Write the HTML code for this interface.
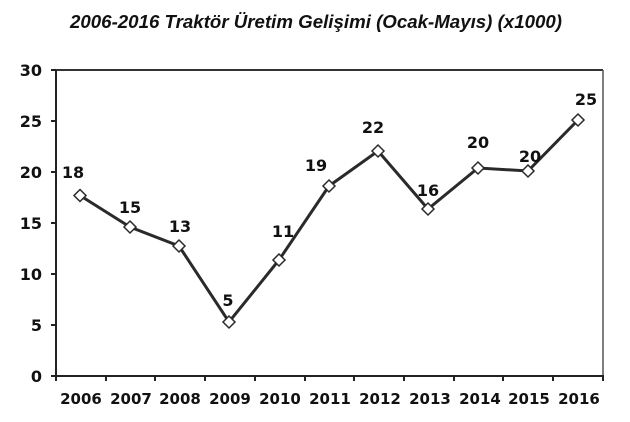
<!DOCTYPE html>
<html><head><style>
body{margin:0;background:#fff;}
svg text{font-family:"DejaVu Sans","Liberation Sans",sans-serif;font-weight:bold;fill:#111;}
</style></head><body>
<svg width="630" height="417" viewBox="0 0 630 417" xmlns="http://www.w3.org/2000/svg">
<text x="70" y="28" textLength="492" lengthAdjust="spacingAndGlyphs" style="font-family:'Liberation Sans',sans-serif;font-style:italic;font-size:18.5px">2006-2016 Traktör Üretim Gelişimi (Ocak-Mayıs) (x1000)</text>
<line x1="56" y1="70" x2="603" y2="70" stroke="#333" stroke-width="2"/>
<line x1="603" y1="70" x2="603" y2="376" stroke="#555" stroke-width="1.5"/>
<line x1="56" y1="70" x2="56" y2="377" stroke="#222" stroke-width="2"/>
<line x1="55" y1="376" x2="604" y2="376" stroke="#222" stroke-width="2"/>
<g stroke="#222" stroke-width="2">
<line x1="51" y1="70" x2="56" y2="70"/><line x1="51" y1="121" x2="56" y2="121"/><line x1="51" y1="172" x2="56" y2="172"/><line x1="51" y1="223" x2="56" y2="223"/><line x1="51" y1="274" x2="56" y2="274"/><line x1="51" y1="325" x2="56" y2="325"/><line x1="51" y1="376" x2="56" y2="376"/>
<line x1="56" y1="376" x2="56" y2="381"/><line x1="106" y1="376" x2="106" y2="381"/><line x1="155" y1="376" x2="155" y2="381"/><line x1="205" y1="376" x2="205" y2="381"/><line x1="255" y1="376" x2="255" y2="381"/><line x1="305" y1="376" x2="305" y2="381"/><line x1="354" y1="376" x2="354" y2="381"/><line x1="404" y1="376" x2="404" y2="381"/><line x1="454" y1="376" x2="454" y2="381"/><line x1="503" y1="376" x2="503" y2="381"/><line x1="553" y1="376" x2="553" y2="381"/><line x1="603" y1="376" x2="603" y2="381"/>
</g>
<g font-size="16" text-anchor="end">
<text x="42" y="76">30</text><text x="42" y="127">25</text><text x="42" y="178">20</text><text x="42" y="229">15</text><text x="42" y="280">10</text><text x="42" y="331">5</text><text x="42" y="382">0</text>
</g>
<g font-size="15" text-anchor="middle">
<text x="81" y="404">2006</text><text x="131" y="404">2007</text><text x="180" y="404">2008</text><text x="230" y="404">2009</text><text x="280" y="404">2010</text><text x="330" y="404">2011</text><text x="380" y="404">2012</text><text x="430" y="404">2013</text><text x="480" y="404">2014</text><text x="529" y="404">2015</text><text x="579" y="404">2016</text>
</g>
<polyline fill="none" stroke="#2a2a2a" stroke-width="3" points="80,195.5 130,227 179,246 229,322 279,260 329,186 378,151 428,209 478,168 528,171 578,120"/>
<g fill="#fff" stroke="#2a2a2a" stroke-width="1.5">
<path d="M80,189.5l6,6l-6,6l-6,-6z"/><path d="M130,221l6,6l-6,6l-6,-6z"/><path d="M179,240l6,6l-6,6l-6,-6z"/><path d="M229,316l6,6l-6,6l-6,-6z"/><path d="M279,254l6,6l-6,6l-6,-6z"/><path d="M329,180l6,6l-6,6l-6,-6z"/><path d="M378,145l6,6l-6,6l-6,-6z"/><path d="M428,203l6,6l-6,6l-6,-6z"/><path d="M478,162l6,6l-6,6l-6,-6z"/><path d="M528,165l6,6l-6,6l-6,-6z"/><path d="M578,114l6,6l-6,6l-6,-6z"/>
</g>
<g font-size="16" text-anchor="middle">
<text x="73" y="178">18</text><text x="130" y="213">15</text><text x="180" y="232">13</text><text x="228" y="306">5</text><text x="283" y="237">11</text><text x="316" y="171">19</text><text x="373" y="133">22</text><text x="428" y="196">16</text><text x="478" y="148">20</text><text x="530" y="162">20</text><text x="586" y="105">25</text>
</g>
</svg>
</body></html>
